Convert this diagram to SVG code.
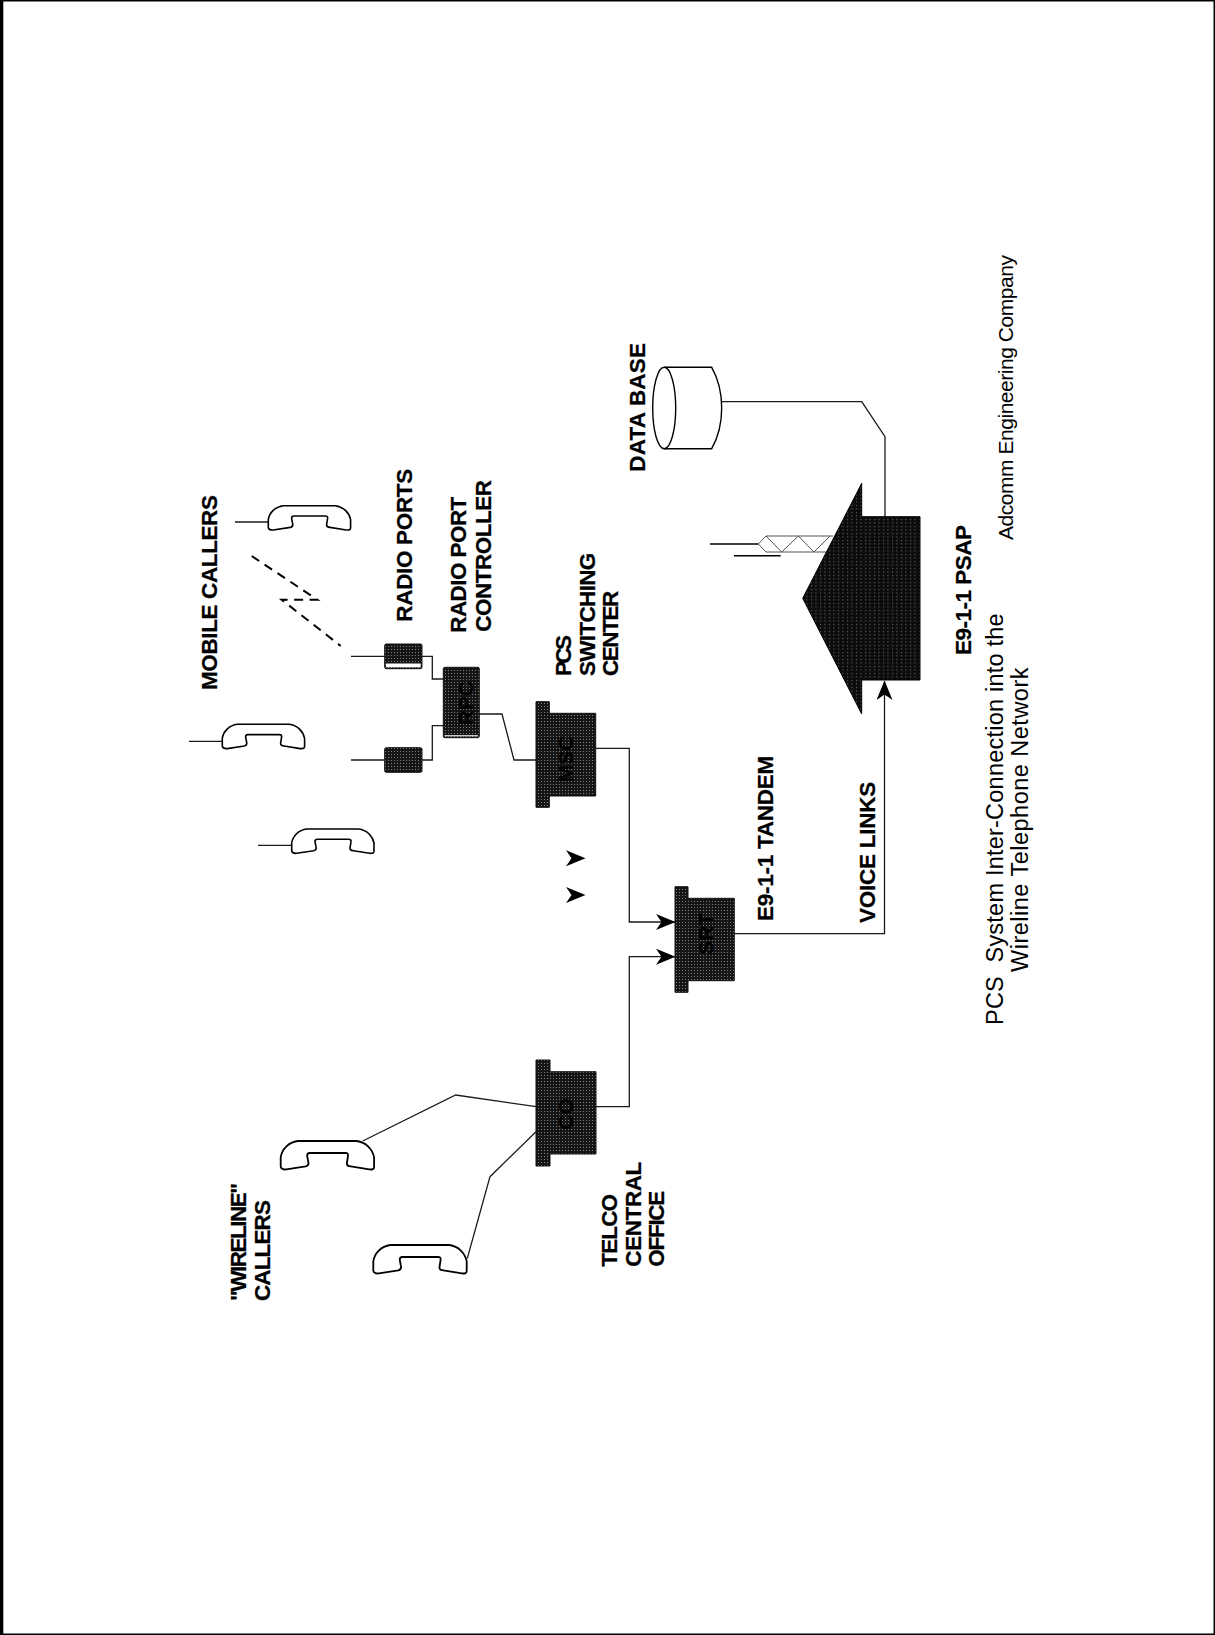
<svg xmlns="http://www.w3.org/2000/svg" width="1215" height="1635" viewBox="0 0 1215 1635">
<style>
text{font-family:"Liberation Sans",Arial,sans-serif;fill:#000}
.b{font-weight:bold;font-size:22.5px;stroke:#000;stroke-width:.25}
.r{font-size:23.5px}
.s{font-size:21px}
.n{font-weight:bold;font-size:21px;text-anchor:middle}
.w{fill:none;stroke:#1a1a1a;stroke-width:1.3}
.ph{fill:#fff;stroke:#000;stroke-width:1.6}
.d{fill:url(#dither);stroke:#111;stroke-width:1}
.p{fill:url(#dither2);stroke:#000;stroke-width:1}
.ant{fill:none;stroke:#555;stroke-width:1}
.db{fill:#fff;stroke:#000;stroke-width:1.4}
</style>
<defs>
<pattern id="dither" width="3" height="3" patternUnits="userSpaceOnUse"><rect width="3" height="3" fill="#151515"/><rect x="1" y="1" width="1" height="1" fill="#808080"/></pattern>
<pattern id="dither2" width="4.5" height="3.5" patternUnits="userSpaceOnUse"><rect width="4.5" height="3.5" fill="#0c0c0c"/><rect x="1" y="1" width="1" height="1" fill="#808080"/></pattern>
<polygon id="head" points="0,0 19.5,8 0,16 5.5,8" fill="#000"/>
<marker id="arr" markerUnits="userSpaceOnUse" markerWidth="20" markerHeight="18" refX="19" refY="8" orient="auto"><use href="#head"/></marker>
<path id="phone" d="M0,14 L0,22 C0.5,24 2,24.5 5,24.3 L22,21.7 C24.5,21 24.8,19.5 24.3,17.7 L23.3,12.7 C23.3,11 24,10.3 25.5,10.3 L57,10.3 C58.8,10.3 59.5,11 59.3,12.7 L58.3,19 C58.2,21 59.5,21.5 61.7,21.7 L78,24.3 C81,24.6 82.3,24 82.3,22 L82.3,14 C81,7 75,1 67,0 L15,0 C7,1 1,7 0,14 Z"/>
</defs>
<rect width="1215" height="1635" fill="#fff"/>
<g id="border" fill="#000">
<rect x="0" y="0" width="1215" height="1.5"/>
<rect x="0" y="0" width="3.3" height="1635"/>
<rect x="1213.5" y="0" width="1.5" height="1635"/>
<rect x="0" y="1633.5" width="1215" height="1.5"/>
</g>
<g id="connectors">
<path class="w" d="M235,522 H268.3"/>
<path class="w" d="M189,741.3 H222.3"/>
<path class="w" d="M258,845.3 H291.7"/>
<path class="w" d="M362.7,1141 L455.7,1095 L536,1106.7"/>
<path class="w" d="M467.3,1258.3 L490,1176.7 L536,1131.7"/>
<path class="w" d="M596,1106.7 H629.3 V956.7 H675" marker-end="url(#arr)"/>
<path class="w" d="M595.7,748.3 H629.3 V922 H675" marker-end="url(#arr)"/>
<path class="w" d="M479.3,714 H502 L514,760 H536"/>
<path class="w" d="M351,656.3 H384.7"/>
<path class="w" d="M351,760 H384.7"/>
<path class="w" d="M422,656.3 H432.3 V679 H443.3"/>
<path class="w" d="M422,760 H432.3 V725.7 H443.3"/>
<path class="w" d="M721.7,401.7 H861.7 L885,436.7 V516.7"/>
<path class="w" d="M734.3,933.7 H884.5 V681" marker-end="url(#arr)"/>
<path fill="none" stroke="#000" stroke-width="2" stroke-dasharray="9 6.5" d="M251.7,556 L317.3,599.7 H281.7 L340.7,646"/>
</g>
<g id="phone-mobile-1"><use href="#phone" class="ph" transform="translate(268.3,505.7)"/></g>
<g id="phone-mobile-2"><use href="#phone" class="ph" transform="translate(222.3,724.3)"/></g>
<g id="phone-mobile-3"><use href="#phone" class="ph" transform="translate(291.7,829)"/></g>
<g id="phone-wireline-1"><use href="#phone" class="ph" transform="translate(280.7,1141) scale(1.135,1.17)"/></g>
<g id="phone-wireline-2"><use href="#phone" class="ph" transform="translate(373.3,1245) scale(1.135,1.17)"/></g>
<g id="radio-port-1"><rect class="d" x="384.7" y="644" width="37.3" height="24.7" rx="1.5"/><rect x="386" y="663.5" width="34.7" height="3.8" fill="#fff"/></g>
<g id="radio-port-2"><rect class="d" x="384.7" y="747.7" width="37.3" height="24.6" rx="1.5"/></g>
<g id="rpc"><rect class="d" x="443.3" y="667.3" width="36" height="70.4" rx="1.5"/><rect x="444.5" y="735" width="33.5" height="1.4" fill="#ccc"/><text class="n" transform="translate(473.3,703.3) rotate(-90)">RPC</text></g>
<g id="msc"><path class="d" d="M536,701.7 H549.3 V713.3 H595.7 V796 H549.3 V807.3 H536 Z"/><text class="n" transform="translate(573.3,759) rotate(-90)">MSC</text></g>
<g id="srt"><path class="d" d="M675,886.7 H688 V898.3 H734.3 V980.7 H688 V992.3 H675 Z"/><text class="n" transform="translate(713.3,934) rotate(-90)">SRT</text></g>
<g id="co"><path class="d" d="M536,1060 H550 V1071.7 H596 V1154 H550 V1166 H536 Z"/><text class="n" transform="translate(573.3,1114) rotate(-90)">CO</text></g>
<g id="database"><path class="db" d="M664,367.3 H711.7 Q721.7,385 721.7,408 Q721.7,431 711.7,448.7 H664"/><ellipse class="db" cx="664.2" cy="408" rx="11.5" ry="40.7"/></g>
<g id="psap">
<path class="ant" d="M833,536 H766 L758.3,544 L766,552 H826.7 M766,536 L781.7,552 L798.3,536 L814,552 L830,536"/>
<path fill="none" stroke="#000" stroke-width="1.4" d="M710,544 H758.3 M734,555.7 H780.7"/>
<polygon class="p" points="802.7,598.3 861.7,483.3 861.7,516.7 920,516.7 920,680 861.7,680 861.7,714"/>
</g>
<g id="free-arrowheads"><use href="#head" transform="translate(566,850.3)"/><use href="#head" transform="translate(566,887)"/></g>
<g id="labels">
<text class="b" textLength="195" transform="translate(217.3,690) rotate(-90)">MOBILE CALLERS</text>
<text class="b" textLength="153" transform="translate(411.7,621.7) rotate(-90)">RADIO PORTS</text>
<text class="b" textLength="136" transform="translate(466,632.7) rotate(-90)">RADIO PORT</text>
<text class="b" textLength="151.7" transform="translate(490.7,631.7) rotate(-90)">CONTROLLER</text>
<text class="b" textLength="41" transform="translate(570.7,676) rotate(-90)">PCS</text>
<text class="b" textLength="123.3" transform="translate(595,676) rotate(-90)">SWITCHING</text>
<text class="b" textLength="85.3" transform="translate(618.3,676) rotate(-90)">CENTER</text>
<text class="b" textLength="165.3" transform="translate(772.7,921) rotate(-90)">E9-1-1 TANDEM</text>
<text class="b" textLength="141.3" transform="translate(875,923) rotate(-90)">VOICE LINKS</text>
<text class="b" textLength="130" transform="translate(971,655) rotate(-90)">E9-1-1 PSAP</text>
<text class="b" textLength="128.7" transform="translate(645,471.7) rotate(-90)">DATA BASE</text>
<text class="b" textLength="118" transform="translate(245.7,1301) rotate(-90)">"WIRELINE"</text>
<text class="b" textLength="101" transform="translate(270,1301) rotate(-90)">CALLERS</text>
<text class="b" textLength="72.7" transform="translate(617.3,1266.7) rotate(-90)">TELCO</text>
<text class="b" textLength="105" transform="translate(640.7,1266.7) rotate(-90)">CENTRAL</text>
<text class="b" textLength="76" transform="translate(664,1266.7) rotate(-90)">OFFICE</text>
<text class="r" textLength="411.7" xml:space="preserve" transform="translate(1003.3,1025) rotate(-90)">PCS  System Inter-Connection into the</text>
<text class="r" textLength="304.5" transform="translate(1028.3,972) rotate(-90)">Wireline Telephone Network</text>
<text class="s" textLength="285" transform="translate(1013.3,540) rotate(-90)">Adcomm Engineering Company</text>
</g>
</svg>
